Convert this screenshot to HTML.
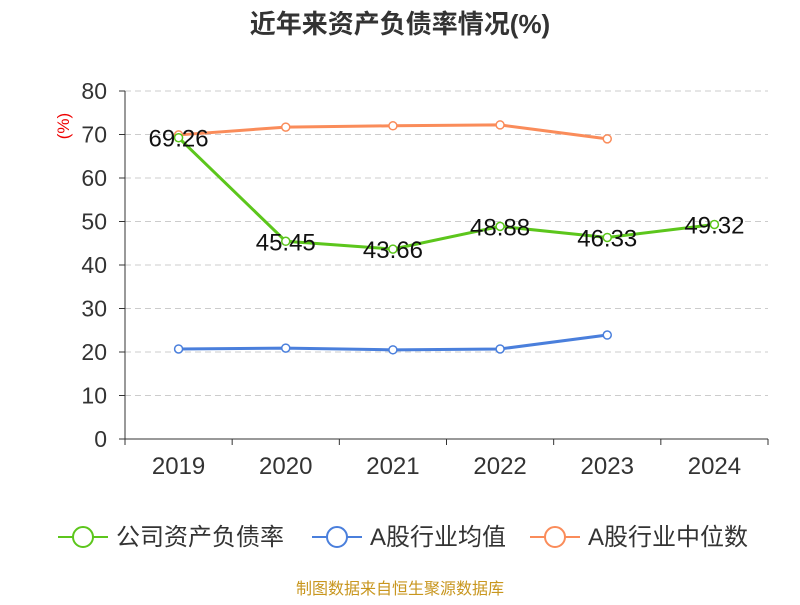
<!DOCTYPE html>
<html><head><meta charset="utf-8"><style>
body{margin:0;background:#fff;font-family:"Liberation Sans","Noto Sans CJK SC",sans-serif}
</style></head><body>
<svg width="800" height="600" xmlns="http://www.w3.org/2000/svg">
<text x="400" y="33" text-anchor="middle" font-size="26" font-weight="bold" fill="#333" font-family="Liberation Sans, Noto Sans CJK SC, sans-serif">近年来资产负债率情况(%)</text>
<text x="69" y="126" text-anchor="middle" font-size="17" fill="#e00" transform="rotate(-90 69 126)">(%)</text>
<g id="grid"></g><g id="axes"></g><g id="series"></g><g id="legend"></g>
<text x="400" y="594" text-anchor="middle" font-size="16" fill="#c8961e" font-family="Liberation Sans, Noto Sans CJK SC, sans-serif">制图数据来自恒生聚源数据库</text>
</svg>
<script>
const categories=["2019","2020","2021","2022","2023","2024"];
const yTicks=[0,10,20,30,40,50,60,70,80];
const companyVals=[69.26,45.45,43.66,48.88,46.33,49.32];
const industryAvg=[20.7,20.9,20.5,20.7,23.9,null];
const industryMed=[69.9,71.7,72.0,72.2,69.0,null];
const NS="http://www.w3.org/2000/svg";
const X0=125,X1=768,Y0=439,Y80=91;
const bw=(X1-X0)/categories.length;
const xs=i=>X0+bw*(i+0.5);
const ys=v=>Y0-(v/80)*(Y0-Y80);
function mk(t,a,p){const e=document.createElementNS(NS,t);for(const k in a)e.setAttribute(k,a[k]);p.appendChild(e);return e;}
const grid=document.getElementById('grid'),axes=document.getElementById('axes'),ser=document.getElementById('series'),leg=document.getElementById('legend');
yTicks.forEach(t=>{const y=ys(t);
 if(t>0){const l=mk('line',{x1:X0,x2:X1,y1:y,y2:y,stroke:'#ccc','stroke-dasharray':'6,4'},grid);
 
 }
 mk('line',{x1:X0-6,x2:X0,y1:y,y2:y,stroke:'#333'},axes);
 const tx=mk('text',{x:X0-18,y:y+8,'text-anchor':'end','font-size':23,fill:'#333'},axes);tx.textContent=t;
 
 
});
mk('line',{x1:X0,x2:X0,y1:Y80,y2:Y0,stroke:'#333'},axes);
mk('line',{x1:X0,x2:X1,y1:Y0,y2:Y0,stroke:'#333'},axes);
for(let i=0;i<=categories.length;i++){mk('line',{x1:X0+bw*i,x2:X0+bw*i,y1:Y0,y2:Y0+6,stroke:'#333'},axes);}
categories.forEach((c,i)=>{const t=mk('text',{x:xs(i),y:Y0+35,'text-anchor':'middle','font-size':24,fill:'#333'},axes);t.textContent=c;
 
 });
function series(vals,color,name,labels){
 const pts=vals.map((v,i)=>v==null?null:[xs(i),ys(v)]).filter(p=>p);
 const pl=mk('polyline',{points:pts.map(p=>p.join(',')).join(' '),fill:'none',stroke:color,'stroke-width':3},ser);
 
 
 vals.forEach((v,i)=>{if(v==null)return;
  const c=mk('circle',{cx:xs(i),cy:ys(v),r:4,fill:'#fff',stroke:color,'stroke-width':1.5},ser);
  
  
  if(labels){const t=mk('text',{x:xs(i),y:ys(v)+9,'text-anchor':'middle','font-size':24,fill:'#111'},ser);t.textContent=v.toFixed(2);
  
  }
 });
}
series(industryMed,'#fa8c5a','industry-median',false);
series(industryAvg,'#4a7fdc','industry-average',false);
series(companyVals,'#5cc61c','company',true);
const items=[['公司资产负债率','#5cc61c',58],['A股行业均值','#4a7fdc',312],['A股行业中位数','#fa8c5a',530]];
items.forEach(([n,c,x])=>{const g=mk('g',{},leg);
 
 
 mk('line',{x1:x,x2:x+50,y1:537,y2:537,stroke:c,'stroke-width':2},g);
 mk('circle',{cx:x+25,cy:537,r:10,fill:'#fff',stroke:c,'stroke-width':2},g);
 const t=mk('text',{x:x+58,y:545,'font-size':24,fill:'#333','font-family':'Liberation Sans, Noto Sans CJK SC, sans-serif'},g);t.textContent=n;});
</script>
</body></html>
